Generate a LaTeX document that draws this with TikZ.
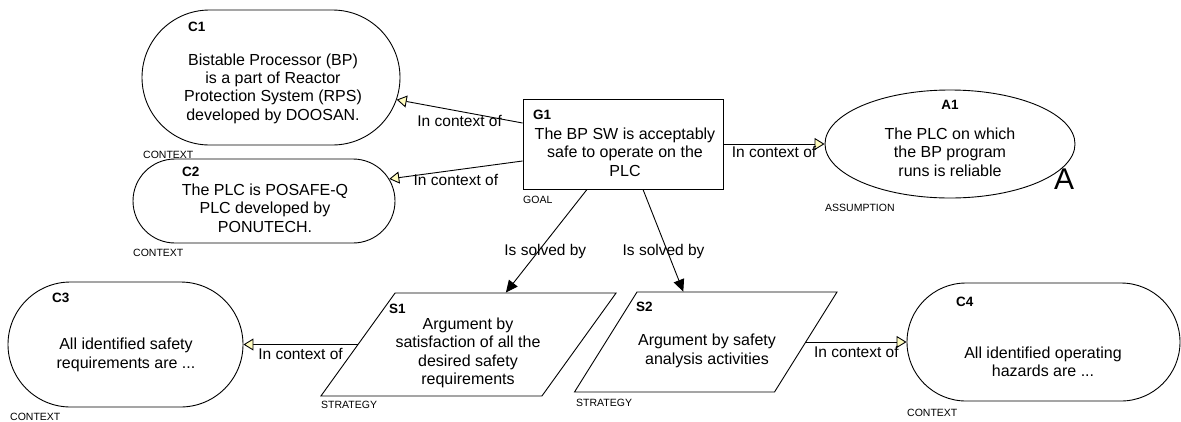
\documentclass[tikz,border=0pt]{standalone}
\usepackage{fontspec}
\setmainfont{Liberation Sans}
\usetikzlibrary{shapes.misc, shapes.geometric, arrows.meta, calc}

\begin{document}
\begin{tikzpicture}[x=1pt, y=-1pt,
        context/.style={rounded rectangle, draw, line width=0.9pt, inner sep=0pt},
        goal/.style={rectangle, draw, line width=0.9pt, inner sep=0pt},
        assumption/.style={ellipse, draw, line width=0.9pt, inner sep=0pt},
        strategy/.style={rectangle, draw, line width=0.9pt, inner sep=0pt, transform shape},
        body/.style={align=center, inner sep=0pt, font=\fontsize{16}{18.3}\selectfont},
        ident/.style={inner sep=0pt, anchor=west, font=\bfseries\fontsize{13.5}{15}\selectfont},
        kind/.style={inner sep=0pt, anchor=west, font=\fontsize{10.5}{12}\selectfont},
        link/.style={inner sep=3.5pt, font=\fontsize{15.5}{18}\selectfont},
        incontext/.style={line width=0.9pt, -{Triangle[length=10pt, width=12pt, fill=yellow!25]}},
        solvedby/.style={line width=0.9pt, -{Triangle[length=12pt, width=11pt]}}
    ]
    \useasboundingbox (0,0) rectangle (1181,421);

    % goal and its contexts
    \node[goal, minimum width=200pt, minimum height=90pt] (g1) at (623,144) {};
    \node[ident] (g1id) at (533,115) {G1};
    \node[body] (g1txt) at (625,152) {The BP SW is acceptably\\safe to operate on the\\PLC};
    \node[kind] (g1kind) at (523,200) {GOAL};

    \node[context, minimum width=258pt, minimum height=135pt] (c1) at (271,77.5) {};
    \node[ident] (c1id) at (188,27) {C1};
    \node[body] (c1txt) at (273,88.5) {Bistable Processor (BP)\\is a part of Reactor\\Protection System (RPS)\\developed by DOOSAN.};
    \node[kind] (c1kind) at (143,155) {CONTEXT};

    \node[context, minimum width=262pt, minimum height=84pt] (c2) at (264,201) {};
    \node[ident] (c2id) at (182,172) {C2};
    \node[body] (c2txt) at (265,208) {The PLC is POSAFE-Q\\PLC developed by\\PONUTECH.};
    \node[kind] (c2kind) at (133,253) {CONTEXT};

    \node[assumption, minimum width=250pt, minimum height=108pt] (a1) at (950,144) {};
    \node[ident, anchor=center] (a1id) at (950,105) {A1};
    \node[body] (a1txt) at (950,152) {The PLC on which\\the BP program\\runs is reliable};
    \node[inner sep=0pt, font=\fontsize{30}{32}\selectfont] (a1mark) at (1064,179) {A};
    \node[kind] (a1kind) at (825,208) {ASSUMPTION};

    % strategies
    \begin{scope}[shift={(468.5,344.5)}, xslant=0.72]
        \node[strategy, minimum width=221pt, minimum height=103pt] (s1) at (0,0) {};
    \end{scope}
    \node[ident] (s1id) at (389,309) {S1};
    \node[body] (s1txt) at (468,353) {Argument by\\satisfaction of all the\\desired safety\\requirements};
    \node[kind] (s1kind) at (321,405) {STRATEGY};

    \begin{scope}[shift={(705.75,342)}, xslant=0.625]
        \node[strategy, minimum width=200pt, minimum height=100pt] (s2) at (0,0) {};
    \end{scope}
    \node[ident] (s2id) at (636,307) {S2};
    \node[body] (s2txt) at (707,351) {Argument by safety\\analysis activities};
    \node[kind] (s2kind) at (576,403) {STRATEGY};

    \node[context, minimum width=235pt, minimum height=125pt] (c3) at (125.5,344.5) {};
    \node[ident] (c3id) at (52,298) {C3};
    \node[body] (c3txt) at (126,355) {All identified safety\\requirements are ...};
    \node[kind] (c3kind) at (10,417) {CONTEXT};

    \node[context, minimum width=273pt, minimum height=118pt] (c4) at (1043.5,342) {};
    \node[ident] (c4id) at (956,302) {C4};
    \node[body] (c4txt) at (1043,362) {All identified operating\\hazards are ...};
    \node[kind] (c4kind) at (907,413) {CONTEXT};

    % connectors
    \draw[incontext] ([yshift=21pt]g1.west) -- node[link, below] {In context of} (c1.-10);
    \draw[incontext] ([yshift=-17pt]g1.west) -- node[link, below] {In context of} (c2.10);
    \draw[incontext] (g1.east) -- node[link, below, inner sep=2pt] {In context of} (a1.west);
    \draw[solvedby] ([xshift=-36pt]g1.south) -- node[link, pos=0.6, xshift=7pt] {Is solved by} (s1.north);
    \draw[solvedby] ([xshift=20pt]g1.south) -- node[link, pos=0.61, xshift=-4pt] {Is solved by} ([xshift=-54pt]s2.north);
    \draw[incontext] (s1.west) -- node[link, below] {In context of} (c3.east);
    \draw[incontext] (s2.east) -- node[link, below] {In context of} (c4.west);
\end{tikzpicture}
\end{document}
